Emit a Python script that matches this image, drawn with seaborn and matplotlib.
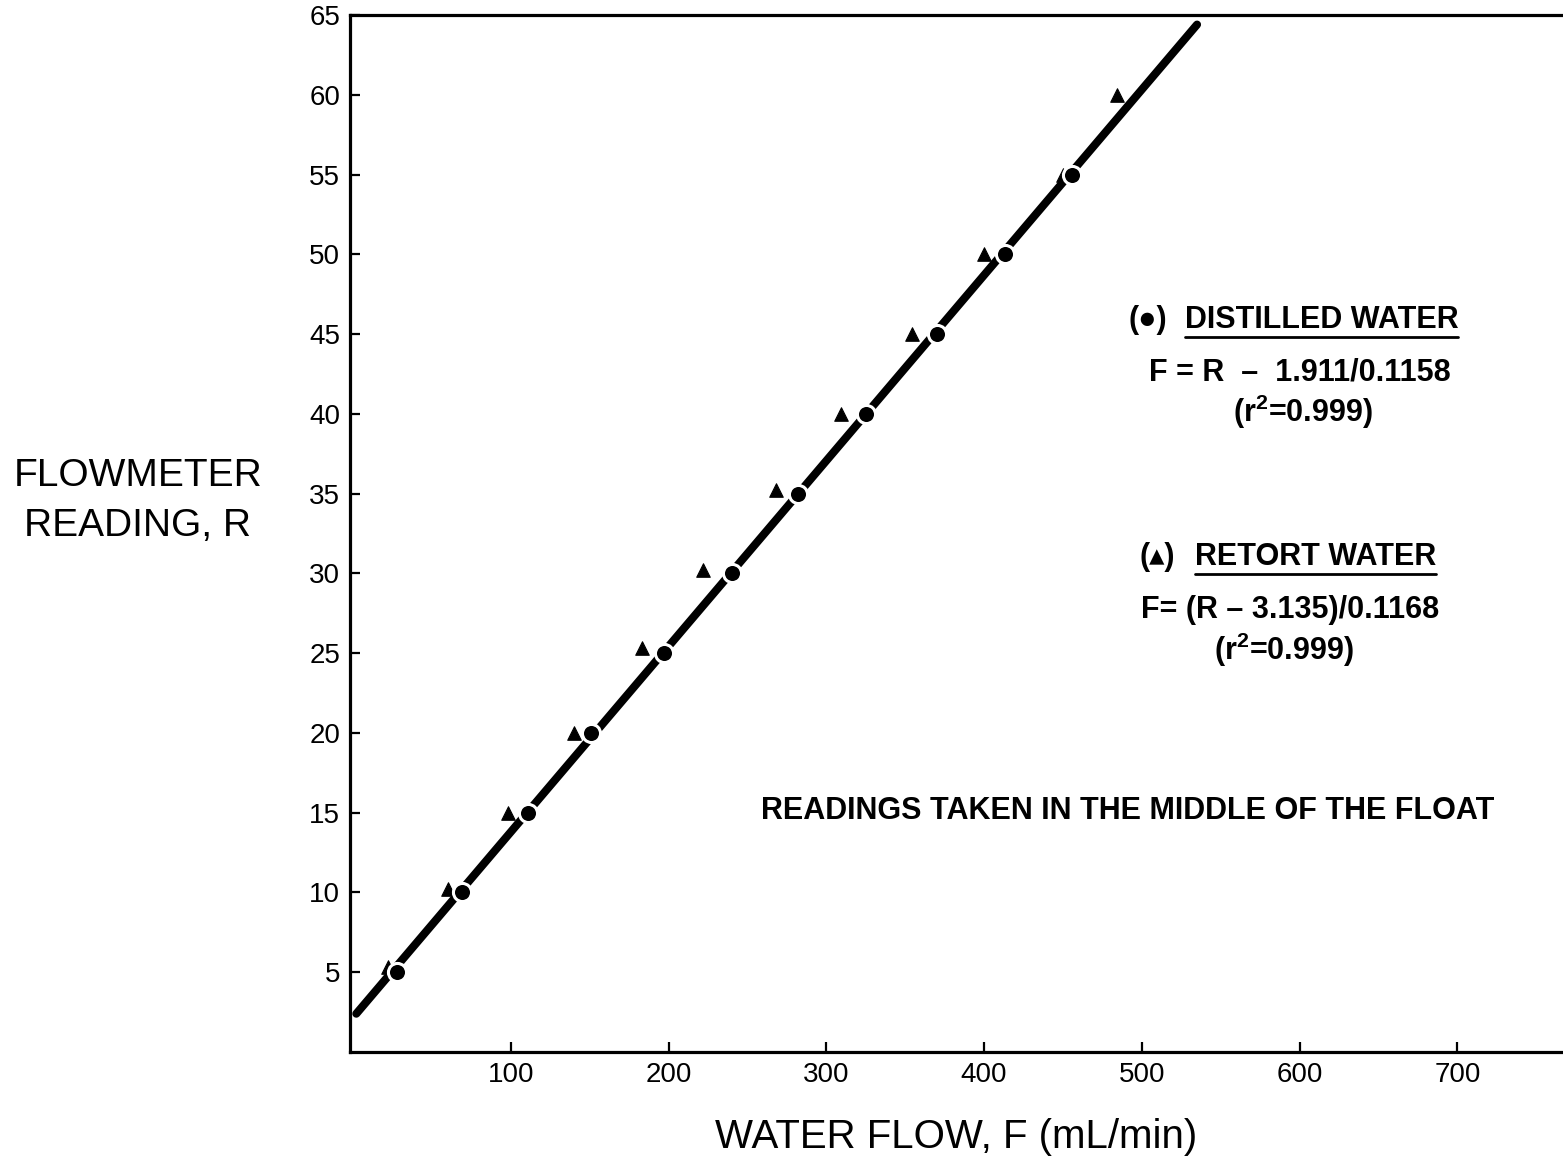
"""Flowmeter calibration: reading vs water flow."""

import matplotlib
matplotlib.use("Agg")
import matplotlib.pyplot as plt
import seaborn as sns
import pandas as pd
from matplotlib.lines import Line2D

# distilled water (circles)
distilled_flow = [28, 69, 111, 151, 197, 240, 282, 325, 370, 413, 456]
distilled_reading = [5, 10, 15, 20, 25, 30, 35, 40, 45, 50, 55]

# retort water (triangles)
retort_flow = [22, 60, 98, 140, 183, 222, 268, 309, 354, 400, 450, 484]
retort_reading = [5.3, 10.2, 15, 20, 25.3, 30.2, 35.2, 40, 45, 50, 55, 60]

# fitted line end points
fit_flow = [2, 535]
fit_reading = [2.4, 64.4]

x_ticks = [100, 200, 300, 400, 500, 600, 700]
y_ticks = [5, 10, 15, 20, 25, 30, 35, 40, 45, 50, 55, 60, 65]

sns.set_style("ticks")
plt.rcParams["font.family"] = ["Liberation Sans", "DejaVu Sans"]
plt.rcParams["mathtext.fontset"] = "custom"
plt.rcParams["mathtext.rm"] = "Liberation Sans:bold"
plt.rcParams["mathtext.bf"] = "Liberation Sans:bold"
for key in ["text.color", "axes.labelcolor", "xtick.color", "ytick.color", "axes.edgecolor"]:
    plt.rcParams[key] = "black"

fig = plt.figure(figsize=(15.63, 11.59), dpi=100)
ax = fig.add_axes([350 / 1563, 107 / 1159, 1 - 350 / 1563, (1052 - 15) / 1159])

df_d = pd.DataFrame({"F": distilled_flow, "R": distilled_reading})
df_r = pd.DataFrame({"F": retort_flow, "R": retort_reading})
df_fit = pd.DataFrame({"F": fit_flow, "R": fit_reading})

sns.lineplot(data=df_fit, x="F", y="R", ax=ax, color="black", linewidth=5.8,
             solid_capstyle="round", zorder=2)
sns.scatterplot(data=df_r, x="F", y="R", ax=ax, marker="^", s=95,
                color="black", edgecolor="black", zorder=3)
sns.scatterplot(data=df_d, x="F", y="R", ax=ax, marker="o", s=170,
                color="black", edgecolor="white", linewidth=2.2, zorder=4)

ax.set_xlim(-2, 767)
ax.set_ylim(0, 65)
ax.set_xticks(x_ticks)
ax.set_yticks(y_ticks)
ax.tick_params(direction="in", length=7, width=1.6, labelsize=20, pad=7)
for side in ["left", "bottom", "top"]:
    ax.spines[side].set_linewidth(2.3)
ax.spines["right"].set_visible(False)

ax.set_xlabel("WATER FLOW, F (mL/min)", fontsize=29, labelpad=22)
ax.set_ylabel("")
fig.text(138 / 1563, 1 - 501 / 1159, "FLOWMETER\nREADING, R", fontsize=28,
         ha="center", va="center", linespacing=1.5)

# annotations
bold = dict(fontsize=22, fontweight="bold", ha="center", va="center")
ax.text(600, 42.6, "F = R  \u2013  1.911/0.1158", **bold)
ax.text(602, 40.1, "(r$^{2}$=0.999)", **bold)
ax.text(594, 27.7, "F= (R \u2013 3.135)/0.1168", **bold)
ax.text(590, 25.2, "(r$^{2}$=0.999)", **bold)
ax.text(491, 15.1, "READINGS TAKEN IN THE MIDDLE OF THE FLOAT",
        fontsize=22, fontweight="bold", ha="center", va="center")

heads = []
ax.text(504, 45.9, "(\u25cf)", fontsize=22, fontweight="bold", ha="center", va="center")
heads.append(ax.text(614, 45.9, "DISTILLED WATER", fontsize=22, fontweight="bold",
                     ha="center", va="center"))
ax.text(510, 31.0, "(\u25b4)", fontsize=22, fontweight="bold", ha="center", va="center")
heads.append(ax.text(610, 31.0, "RETORT WATER", fontsize=22, fontweight="bold",
                     ha="center", va="center"))

# underline the two headings
renderer = fig.canvas.get_renderer()
for t in heads:
    bb = t.get_window_extent(renderer)
    y = bb.y0 - 2
    fig.add_artist(Line2D([bb.x0, bb.x1], [y, y], transform=None,
                          color="black", linewidth=2))

fig.savefig("out.png", dpi=100, facecolor="white")
